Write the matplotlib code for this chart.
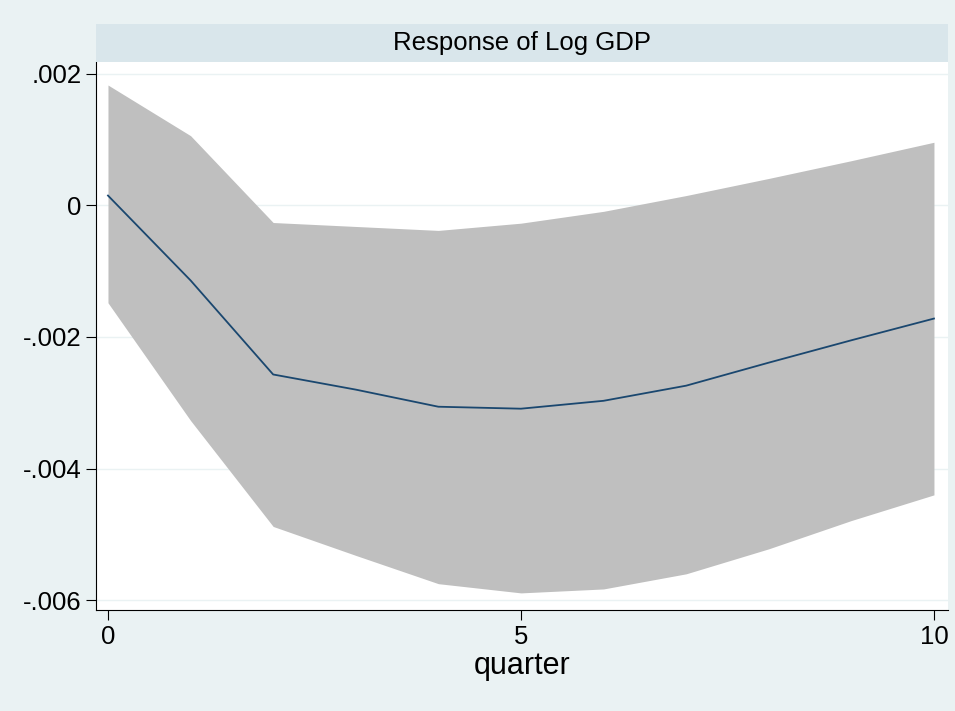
import numpy as np
import matplotlib.pyplot as plt
from matplotlib.patches import Rectangle

quarter = np.arange(0, 11)
irf = [0.00015, -0.00114, -0.00257, -0.0028, -0.00306, -0.00309, -0.00297, -0.00274, -0.00239, -0.00205, -0.00172]
upper = [0.00183, 0.00106, -0.00026, -0.00032, -0.00038, -0.00027, -0.00009, 0.00015, 0.00041, 0.00068, 0.00096]
lower = [-0.00148, -0.00327, -0.00488, -0.00532, -0.00575, -0.00589, -0.00583, -0.0056, -0.00522, -0.00479, -0.0044]
yticks = [0.002, 0, -0.002, -0.004, -0.006]
ylabels = ['.002', '0', '-.002', '-.004', '-.006']

plt.rcParams['font.family'] = 'Liberation Sans'
W, H = 955, 711
fig = plt.figure(figsize=(W / 100, H / 100), dpi=100)
fig.patch.set_facecolor('#eaf2f3')

ax = fig.add_axes([96 / W, (H - 610) / H, 852 / W, (610 - 62) / H])
ax.fill_between(quarter, lower, upper, color='#bfbfbf', lw=0)
ax.plot(quarter, irf, color='#1a476f', lw=1.3)
ax.set_xlim(-0.145, 10.17)
ax.set_ylim(-0.00615, 0.00218)
ax.set_yticks(yticks)
ax.set_yticklabels(ylabels)
ax.set_xticks([0, 5, 10])
ax.grid(axis='y', color='#eaf2f3', lw=1)
ax.set_axisbelow(True)
ax.tick_params(labelsize=18.5, length=7, color='black')
for s in ['top', 'right']:
    ax.spines[s].set_visible(False)
ax.set_xlabel('quarter', fontsize=22, labelpad=2)

fig.patches.append(Rectangle((96 / W, (H - 62) / H), 852 / W, 38 / H,
                             transform=fig.transFigure, facecolor='#d9e6eb',
                             edgecolor='none'))
fig.text((96 + 426) / W, (H - 43) / H, 'Response of Log GDP', ha='center',
         va='center', fontsize=18.5)

fig.savefig('out.png', dpi=100, facecolor=fig.get_facecolor())
